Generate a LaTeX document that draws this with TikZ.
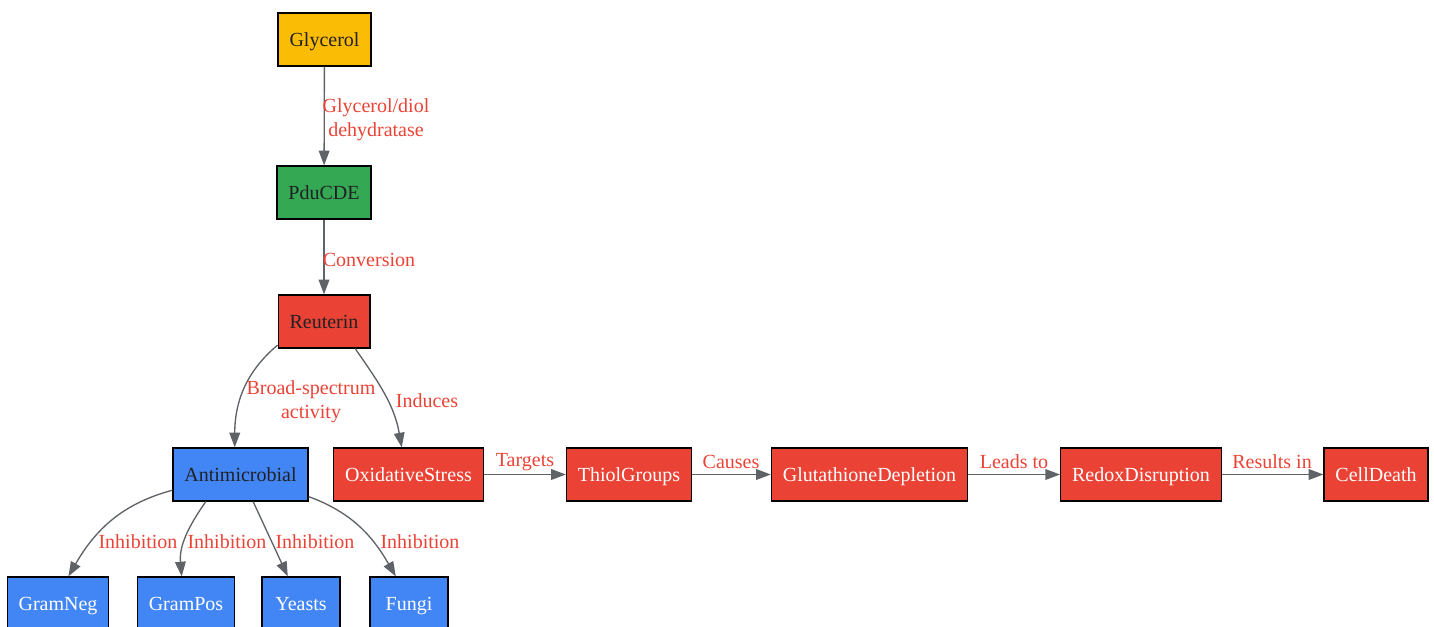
\documentclass[tikz,border=0pt]{standalone}
\usepackage{xcolor}
\usepackage{fontspec}
\setmainfont{Liberation Serif}
\usepackage{tikz}
\usetikzlibrary{positioning}
\usetikzlibrary{arrows.meta}
\definecolor{gyellow}{HTML}{FBBC05}
\definecolor{ggreen}{HTML}{34A853}
\definecolor{gred}{HTML}{EA4335}
\definecolor{gblue}{HTML}{4285F4}
\definecolor{gdark}{HTML}{202124}
\definecolor{ggray}{HTML}{5F6368}
\tikzset{nd/.style={rectangle,draw=black,line width=0.9pt,align=center,minimum height=39.75pt,minimum width=58.5pt,inner xsep=8.6pt,text height=13pt,text depth=2.5pt,text=gdark,font=\fontsize{15}{18}\selectfont}}
\tikzset{lbl/.style={text=gred,align=center,inner sep=0pt,font=\fontsize{15}{18}\selectfont}}
\tikzset{edge/.style={-{Triangle[length=11pt,width=8pt]},line width=1pt,draw=ggray}}

\begin{document}
\begin{tikzpicture}[x=0.75pt, y=0.75pt]
  \useasboundingbox (0,0) rectangle (1434,-627);

	% synthesis of reuterin
	\node[nd, fill=gyellow] (gly) at (324.5,-39.5) {Glycerol};
	\node[nd, fill=ggreen] (pdu) at (324,-192.5) {PduCDE};
	\node[nd, fill=gred] (reut) at (324,-321.5) {Reuterin};
	\node[nd, fill=gblue] (anti) at (240.5,-474.5) {Antimicrobial};

        \foreach \x/\name/\txt in {408.5/oxi/OxidativeStress, 629/thiol/ThiolGroups, 869.5/gsh/GlutathioneDepletion, 1141/redox/RedoxDisruption, 1376/death/CellDeath}{
         	\node[nd, fill=gred, text=white] (\name) at (\x,-474.5) {\txt};
   	 }
        \foreach \x/\name/\txt in {58/gneg/GramNeg, 186/gpos/GramPos, 301/yst/Yeasts, 409/fungi/Fungi}{
         	\node[nd, fill=gblue, text=white] (\name) at (\x,-603.5) {\txt};
   	 }

	\draw[edge] (gly) -- (pdu);
	\draw[edge] (pdu) -- (reut);
	\draw[edge] (reut.207) to[out=-140, in=90] (anti.102);
	\draw[edge] (reut.-41) to[out=-55, in=100] (oxi.104);
        \foreach \a/\b in {oxi/thiol, thiol/gsh, gsh/redox, redox/death}{
         	\draw[edge] (\a) -- (\b);
   	 }
	\draw[edge] (anti.193) to[out=195, in=60] (gneg.69);
	\draw[edge] (anti.218) to[out=-125, in=95] (gpos.99);
	\draw[edge] (anti.-65) -- (yst.116);
	\draw[edge] (anti.-18) to[out=-20, in=120] (fungi.116);

	% edge labels
	\node[lbl] (ldehyd) at (376,-119.5) {Glycerol/diol\\dehydratase};
	\node[lbl] (lconv) at (369,-260) {Conversion};
	\node[lbl] (lbroad) at (311,-401.5) {Broad-spectrum\\activity};
	\node[lbl] (linduc) at (427,-401) {Induces};
        \foreach \x/\name/\txt in {525/ltarg/Targets, 731/lcause/Causes, 1014/llead/Leads to, 1272/lresult/Results in}{
         	\node[lbl] (\name) at (\x,-462) {\txt};
   	 }
        \foreach \x/\name in {138/linh1, 227/linh2, 315/linh3, 420/linh4}{
         	\node[lbl] (\name) at (\x,-542) {Inhibition};
   	 }
\end{tikzpicture}
\end{document}
